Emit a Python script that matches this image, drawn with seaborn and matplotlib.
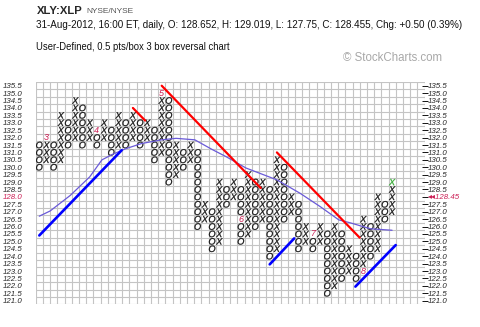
import numpy as np
import pandas as pd
import matplotlib
matplotlib.use("Agg")
import matplotlib.pyplot as plt
import seaborn as sns

# ---------------- data ----------------
col_types = ["O", "X"] * 25
col_lows = [130.0, 130.5, 130.0, 130.5, 131.5, 132.0, 131.5, 132.0, 131.5, 132.0,
            131.0, 131.5, 131.5, 132.0, 131.5, 132.0, 130.5, 131.0, 129.0, 129.5,
            130.0, 130.5, 126.0, 126.5, 124.5, 125.0, 127.5, 128.0, 125.0, 125.5,
            126.0, 126.5, 124.0, 124.5, 126.5, 127.0, 124.5, 125.0, 124.5, 125.0,
            121.5, 122.0, 122.5, 123.0, 122.5, 123.0, 124.0, 124.5, 126.5, 127.0]
col_highs = [131.5, 132.0, 131.5, 133.5, 133.0, 134.5, 134.0, 133.0, 132.5, 133.0,
             132.5, 133.5, 133.0, 133.5, 133.0, 133.0, 132.5, 135.0, 134.5, 131.5,
             131.0, 131.5, 131.0, 127.5, 127.0, 129.0, 128.5, 129.0, 128.5, 129.5,
             129.0, 129.0, 128.5, 130.5, 130.0, 128.0, 127.5, 126.0, 125.5, 126.0,
             125.5, 126.0, 125.5, 124.5, 124.0, 126.5, 126.0, 128.0, 127.5, 129.0]

month_cols = [1, 8, 17, 28, 38, 45]
month_prices = [132.0, 132.5, 135.0, 126.5, 125.5, 123.0]
month_text = ["3", "4", "5", "6", "7", "8"]

ma_cols = [0, 1.5, 4.3, 7.0, 8.7, 10.3, 12.0, 14.2, 17.0, 19.0, 21.6, 24.0,
           26.0, 28.7, 33.0, 36.2, 39.0, 41.6, 43.2, 46.0, 49.0]
ma_vals = [126.7, 127.05, 128.1, 129.35, 130.5, 130.9, 131.25, 131.6, 131.85,
           131.95, 131.85, 131.2, 130.7, 129.95, 129.15, 128.25, 127.35, 126.45,
           126.25, 125.85, 125.75]

blue_x = [[0.0, 11.45], [32.0, 35.4], [43.9, 49.5]]
blue_y = [[125.4, 131.15], [123.45, 125.2], [121.95, 124.75]]
red_x = [[13.0, 14.7], [17.0, 30.75], [33.0, 44.5]]
red_y = [[134.0, 133.15], [135.5, 128.6], [131.0, 125.25]]

price_rows = [121.0 + 0.5 * i for i in range(30)]
last_price_label = "\u25c2\u25c2128.45"
last_price_row = 128.0

title = "XLY:XLP"
exchange = "NYSE/NYSE"
info = "31-Aug-2012, 16:00 ET, daily, O: 128.652, H: 129.019, L: 127.75, C: 128.455, Chg: +0.50 (0.39%)"
subtitle = "User-Defined, 0.5 pts/box 3 box reversal chart"
credit = "\u00a9 StockCharts.com"

# ---------------- styling ----------------
sns.set_style("white")
plt.rcParams["font.family"] = ["Liberation Sans", "DejaVu Sans"]
plt.rcParams["mathtext.fontset"] = "custom"
plt.rcParams["mathtext.it"] = "Liberation Sans:italic"
plt.rcParams["mathtext.rm"] = "Liberation Sans"

PINK = "#cc1f55"
GREEN = "#33aa33"

# build box table
recs = []
labels_set = {(c, p) for c, p in zip(month_cols, month_prices)}
last_col = len(col_types) - 1
for i, (t, lo, hi) in enumerate(zip(col_types, col_lows, col_highs)):
    n = int(round((hi - lo) / 0.5)) + 1
    for k in range(n):
        p = lo + 0.5 * k
        if (i, p) in labels_set:
            continue
        shade = "cur" if (i == last_col and p == hi) else "normal"
        recs.append({"col": i, "price": p, "kind": t, "shade": shade})
df = pd.DataFrame(recs)

W, H = 480, 327
fig = plt.figure(figsize=(W / 100, H / 100), dpi=100)
ax = fig.add_axes([35.7 / W, (H - 304.4) / H, 388.8 / W, 222.4 / H])

sns.scatterplot(data=df, x="col", y="price", style="kind", hue="shade",
                markers={"X": "$X$", "O": "$O$"},
                palette={"normal": "#111111", "cur": GREEN},
                s=22, linewidth=0.2, edgecolor="face", legend=False, ax=ax, zorder=3)

for c, p, t in zip(month_cols, month_prices, month_text):
    ax.text(c, p, t, color=PINK, fontsize=6.5, style="italic",
            ha="center", va="center", zorder=4)

sns.lineplot(x=ma_cols, y=ma_vals, color="#6a5ad8", lw=0.9, ax=ax, zorder=5)
for xs, ys in zip(blue_x, blue_y):
    sns.lineplot(x=xs, y=ys, color="#0000ff", lw=1.9, ax=ax, zorder=6)
for xs, ys in zip(red_x, red_y):
    sns.lineplot(x=xs, y=ys, color="#ff0000", lw=1.6, ax=ax, zorder=6)

ax.set_xlim(-0.5, 53.5)
ax.set_ylim(120.75, 135.75)
ax.set_xticks([])
ax.set_xticks(np.arange(-0.5, 53.6, 1), minor=True)
ax.set_yticks(np.arange(120.75, 135.8, 0.5), minor=True)
ax.grid(which="minor", color="#c4c4c4", lw=0.8)
ax.tick_params(which="minor", length=0)
ax.set_yticks(price_rows)
ax.set_yticklabels([f"{p:.1f}" for p in price_rows], fontsize=5.7, style="italic")
ax.tick_params(axis="y", which="major", direction="inout", length=4.3, width=0.7,
               color="#111111", pad=7.0)
for lab, p in zip(ax.get_yticklabels(), price_rows):
    if p == last_price_row:
        lab.set_color(PINK)
ax.set_xlabel("")
ax.set_ylabel("")
for s in ax.spines.values():
    s.set_visible(False)

sec = ax.secondary_yaxis("right")
sec.set_yticks(price_rows)
sec.set_yticklabels([last_price_label if p == last_price_row else f"{p:.1f}"
                     for p in price_rows], fontsize=5.7, style="italic")
sec.tick_params(direction="inout", length=4.3, width=0.7, color="#111111", pad=0.3)
for lab, p in zip(sec.get_yticklabels(), price_rows):
    if p == last_price_row:
        lab.set_color(PINK)
sec.spines["right"].set_visible(False)

fig.text(36.5 / W, 1 - 11 / H, title, fontsize=8.1, fontweight="bold", va="center", ha="left")
fig.text(86 / W, 1 - 11.5 / H, exchange, fontsize=6.0, color="#555555", va="center", ha="left")
fig.text(36.5 / W, 1 - 25 / H, info, fontsize=7.1, color="#111111", va="center", ha="left")
fig.text(36.5 / W, 1 - 46.5 / H, subtitle, fontsize=6.85, color="#111111", va="center", ha="left")
fig.text(343 / W, 1 - 58 / H, credit, fontsize=8.3, color="#a8a8a8", va="center", ha="left")

fig.savefig("out.png", dpi=100)
